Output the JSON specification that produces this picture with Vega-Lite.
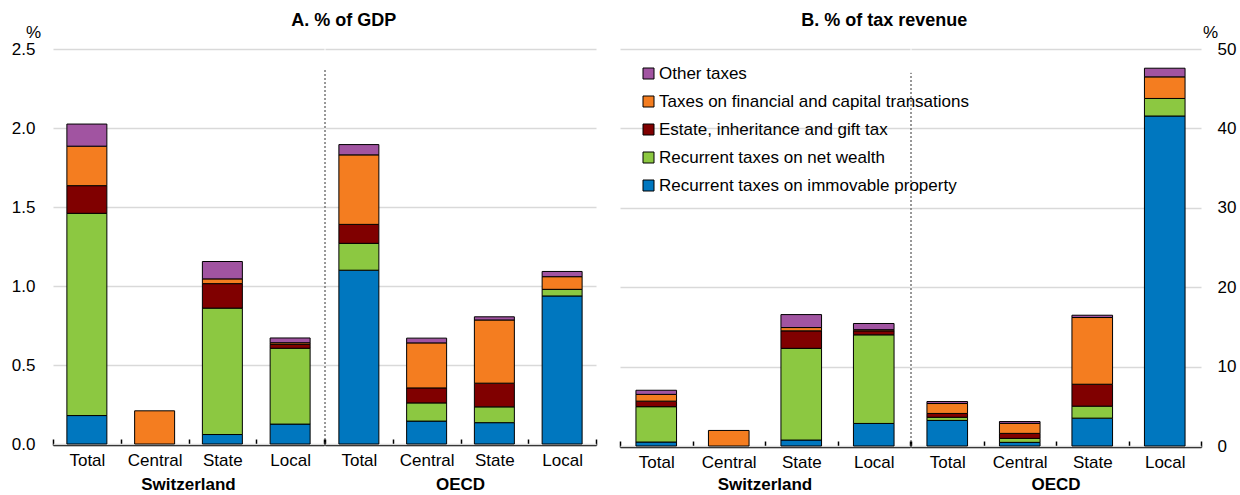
{
  "$schema": "https://vega.github.io/schema/vega-lite/v6.json",
  "background": "white",
  "padding": {"left": 11, "top": 12, "right": 5, "bottom": 0},
  "config": {
    "font": "Liberation Sans",
    "view": {"stroke": null},
    "axis": {"labelFont": "Liberation Sans", "labelFontSize": 17, "labelColor": "black", "titleFont": "Liberation Sans", "titleColor": "black"},
    "header": {"labelFont": "Liberation Sans", "labelFontWeight": "bold", "labelFontSize": 17, "labelColor": "black"},
    "title": {"font": "Liberation Sans", "fontWeight": "bold", "fontSize": 18, "color": "black"},
    "legend": {"labelFont": "Liberation Sans", "labelColor": "black"}
  },
  "datasets": {
    "gdp": [
      {"group": "Switzerland", "level": "Total", "tax": "Recurrent taxes on immovable property", "value": 0.18},
      {"group": "Switzerland", "level": "Total", "tax": "Recurrent taxes on net wealth", "value": 1.28},
      {"group": "Switzerland", "level": "Total", "tax": "Estate, inheritance and gift tax", "value": 0.175},
      {"group": "Switzerland", "level": "Total", "tax": "Taxes on financial and capital transations", "value": 0.25},
      {"group": "Switzerland", "level": "Total", "tax": "Other taxes", "value": 0.14},
      {"group": "Switzerland", "level": "Central", "tax": "Taxes on financial and capital transations", "value": 0.21},
      {"group": "Switzerland", "level": "State", "tax": "Recurrent taxes on immovable property", "value": 0.06},
      {"group": "Switzerland", "level": "State", "tax": "Recurrent taxes on net wealth", "value": 0.80},
      {"group": "Switzerland", "level": "State", "tax": "Estate, inheritance and gift tax", "value": 0.155},
      {"group": "Switzerland", "level": "State", "tax": "Taxes on financial and capital transations", "value": 0.03},
      {"group": "Switzerland", "level": "State", "tax": "Other taxes", "value": 0.11},
      {"group": "Switzerland", "level": "Local", "tax": "Recurrent taxes on immovable property", "value": 0.126},
      {"group": "Switzerland", "level": "Local", "tax": "Recurrent taxes on net wealth", "value": 0.48},
      {"group": "Switzerland", "level": "Local", "tax": "Estate, inheritance and gift tax", "value": 0.025},
      {"group": "Switzerland", "level": "Local", "tax": "Taxes on financial and capital transations", "value": 0.01},
      {"group": "Switzerland", "level": "Local", "tax": "Other taxes", "value": 0.03},
      {"group": "OECD", "level": "Total", "tax": "Recurrent taxes on immovable property", "value": 1.10},
      {"group": "OECD", "level": "Total", "tax": "Recurrent taxes on net wealth", "value": 0.17},
      {"group": "OECD", "level": "Total", "tax": "Estate, inheritance and gift tax", "value": 0.12},
      {"group": "OECD", "level": "Total", "tax": "Taxes on financial and capital transations", "value": 0.44},
      {"group": "OECD", "level": "Total", "tax": "Other taxes", "value": 0.065},
      {"group": "OECD", "level": "Central", "tax": "Recurrent taxes on immovable property", "value": 0.145},
      {"group": "OECD", "level": "Central", "tax": "Recurrent taxes on net wealth", "value": 0.115},
      {"group": "OECD", "level": "Central", "tax": "Estate, inheritance and gift tax", "value": 0.095},
      {"group": "OECD", "level": "Central", "tax": "Taxes on financial and capital transations", "value": 0.285},
      {"group": "OECD", "level": "Central", "tax": "Other taxes", "value": 0.03},
      {"group": "OECD", "level": "State", "tax": "Recurrent taxes on immovable property", "value": 0.135},
      {"group": "OECD", "level": "State", "tax": "Recurrent taxes on net wealth", "value": 0.10},
      {"group": "OECD", "level": "State", "tax": "Estate, inheritance and gift tax", "value": 0.15},
      {"group": "OECD", "level": "State", "tax": "Taxes on financial and capital transations", "value": 0.40},
      {"group": "OECD", "level": "State", "tax": "Other taxes", "value": 0.02},
      {"group": "OECD", "level": "Local", "tax": "Recurrent taxes on immovable property", "value": 0.937},
      {"group": "OECD", "level": "Local", "tax": "Recurrent taxes on net wealth", "value": 0.042},
      {"group": "OECD", "level": "Local", "tax": "Taxes on financial and capital transations", "value": 0.08},
      {"group": "OECD", "level": "Local", "tax": "Other taxes", "value": 0.033}
    ],
    "rev": [
      {"group": "Switzerland", "level": "Total", "tax": "Recurrent taxes on immovable property", "value": 0.5},
      {"group": "Switzerland", "level": "Total", "tax": "Recurrent taxes on net wealth", "value": 4.45},
      {"group": "Switzerland", "level": "Total", "tax": "Estate, inheritance and gift tax", "value": 0.7},
      {"group": "Switzerland", "level": "Total", "tax": "Taxes on financial and capital transations", "value": 0.85},
      {"group": "Switzerland", "level": "Total", "tax": "Other taxes", "value": 0.52},
      {"group": "Switzerland", "level": "Central", "tax": "Taxes on financial and capital transations", "value": 1.96},
      {"group": "Switzerland", "level": "State", "tax": "Recurrent taxes on immovable property", "value": 0.75},
      {"group": "Switzerland", "level": "State", "tax": "Recurrent taxes on net wealth", "value": 11.55},
      {"group": "Switzerland", "level": "State", "tax": "Estate, inheritance and gift tax", "value": 2.2},
      {"group": "Switzerland", "level": "State", "tax": "Taxes on financial and capital transations", "value": 0.42},
      {"group": "Switzerland", "level": "State", "tax": "Other taxes", "value": 1.63},
      {"group": "Switzerland", "level": "Local", "tax": "Recurrent taxes on immovable property", "value": 2.84},
      {"group": "Switzerland", "level": "Local", "tax": "Recurrent taxes on net wealth", "value": 11.16},
      {"group": "Switzerland", "level": "Local", "tax": "Estate, inheritance and gift tax", "value": 0.5},
      {"group": "Switzerland", "level": "Local", "tax": "Taxes on financial and capital transations", "value": 0.15},
      {"group": "Switzerland", "level": "Local", "tax": "Other taxes", "value": 0.78},
      {"group": "OECD", "level": "Total", "tax": "Recurrent taxes on immovable property", "value": 3.22},
      {"group": "OECD", "level": "Total", "tax": "Recurrent taxes on net wealth", "value": 0.4},
      {"group": "OECD", "level": "Total", "tax": "Estate, inheritance and gift tax", "value": 0.48},
      {"group": "OECD", "level": "Total", "tax": "Taxes on financial and capital transations", "value": 1.25},
      {"group": "OECD", "level": "Total", "tax": "Other taxes", "value": 0.25},
      {"group": "OECD", "level": "Central", "tax": "Recurrent taxes on immovable property", "value": 0.46},
      {"group": "OECD", "level": "Central", "tax": "Recurrent taxes on net wealth", "value": 0.5},
      {"group": "OECD", "level": "Central", "tax": "Estate, inheritance and gift tax", "value": 0.63},
      {"group": "OECD", "level": "Central", "tax": "Taxes on financial and capital transations", "value": 1.26},
      {"group": "OECD", "level": "Central", "tax": "Other taxes", "value": 0.23},
      {"group": "OECD", "level": "State", "tax": "Recurrent taxes on immovable property", "value": 3.51},
      {"group": "OECD", "level": "State", "tax": "Recurrent taxes on net wealth", "value": 1.51},
      {"group": "OECD", "level": "State", "tax": "Estate, inheritance and gift tax", "value": 2.76},
      {"group": "OECD", "level": "State", "tax": "Taxes on financial and capital transations", "value": 8.4},
      {"group": "OECD", "level": "State", "tax": "Other taxes", "value": 0.29},
      {"group": "OECD", "level": "Local", "tax": "Recurrent taxes on immovable property", "value": 41.56},
      {"group": "OECD", "level": "Local", "tax": "Recurrent taxes on net wealth", "value": 2.21},
      {"group": "OECD", "level": "Local", "tax": "Taxes on financial and capital transations", "value": 2.72},
      {"group": "OECD", "level": "Local", "tax": "Other taxes", "value": 1.09}
    ]
  },
  "spacing": 22,
  "resolve": {"scale": {"x": "independent", "y": "independent", "color": "shared"}},
  "hconcat": [
    {
      "data": {"name": "gdp"},
      "title": {"text": "A. % of GDP", "anchor": "start", "dx": 280, "offset": -7},
      "facet": {"column": {"field": "group", "type": "nominal", "sort": ["Switzerland", "OECD"], "header": {"title": null, "labelOrient": "bottom", "labelPadding": 9}}},
      "spacing": 0,
      "spec": {
        "width": 271,
        "height": 395,
        "layer": [
          {
            "transform": [{"calculate": "indexof(['Recurrent taxes on immovable property', 'Recurrent taxes on net wealth', 'Estate, inheritance and gift tax', 'Taxes on financial and capital transations', 'Other taxes'], datum.tax)", "as": "stackOrder"}],
            "mark": {"type": "bar", "width": {"band": 0.59}, "stroke": "black", "strokeWidth": 1},
            "encoding": {
              "x": {"field": "level", "type": "nominal", "sort": ["Total", "Central", "State", "Local"], "scale": {"paddingInner": 0, "paddingOuter": 0},
                "axis": {"title": null, "labelAngle": 0, "tickBand": "extent", "tickSize": -6, "tickWidth": 1.5, "tickColor": "black", "domainColor": "black", "domainWidth": 1.5, "labelPadding": 13}},
              "y": {"field": "value", "type": "quantitative", "stack": "zero", "scale": {"domain": [0, 2.5], "nice": false},
                "axis": {"title": "%", "titleAngle": 0, "titleX": -20, "titleY": -12, "titleAlign": "center", "titleBaseline": "alphabetic", "titleFontWeight": "normal", "titleFontSize": 17, "format": ".1f", "values": [0, 0.5, 1, 1.5, 2, 2.5], "ticks": false, "domain": false, "labelPadding": 18, "gridColor": "#d9d9d9", "gridWidth": 1.5}},
              "order": {"field": "stackOrder", "type": "quantitative"},
              "color": {"field": "tax", "type": "nominal",
                "scale": {"domain": ["Recurrent taxes on immovable property", "Recurrent taxes on net wealth", "Estate, inheritance and gift tax", "Taxes on financial and capital transations", "Other taxes"], "range": ["#0077bf", "#8cc841", "#800000", "#f47d20", "#a154a1"]},
                "legend": {"orient": "none", "legendX": 587, "legendY": 16, "title": null, "values": ["Other taxes", "Taxes on financial and capital transations", "Estate, inheritance and gift tax", "Recurrent taxes on net wealth", "Recurrent taxes on immovable property"], "symbolType": "square", "symbolSize": 121, "symbolStrokeColor": "black", "symbolStrokeWidth": 1, "labelFontSize": 17, "labelLimit": 0, "rowPadding": 10, "labelOffset": 2}}
            }
          },
          {
            "transform": [{"filter": "datum.group == 'OECD' && datum.level == 'Total' && datum.tax == 'Other taxes'"}],
            "mark": {"type": "rule", "strokeDash": [2, 2], "color": "#333", "strokeWidth": 1},
            "encoding": {
              "x": {"field": "level", "type": "nominal", "sort": ["Total", "Central", "State", "Local"], "bandPosition": 0},
              "y": {"datum": 0},
              "y2": {"datum": 2.37}
            }
          }
        ]
      }
    },
    {
      "data": {"name": "rev"},
      "title": {"text": "B. % of tax revenue", "anchor": "start", "dx": 182, "offset": -7},
      "facet": {"column": {"field": "group", "type": "nominal", "sort": ["Switzerland", "OECD"], "header": {"title": null, "labelOrient": "bottom", "labelPadding": 7}}},
      "spacing": 0,
      "spec": {
        "width": 290,
        "height": 397,
        "layer": [
          {
            "transform": [{"calculate": "indexof(['Recurrent taxes on immovable property', 'Recurrent taxes on net wealth', 'Estate, inheritance and gift tax', 'Taxes on financial and capital transations', 'Other taxes'], datum.tax)", "as": "stackOrder"}],
            "mark": {"type": "bar", "width": {"band": 0.56}, "stroke": "black", "strokeWidth": 1},
            "encoding": {
              "x": {"field": "level", "type": "nominal", "sort": ["Total", "Central", "State", "Local"], "scale": {"paddingInner": 0, "paddingOuter": 0},
                "axis": {"title": null, "labelAngle": 0, "tickBand": "extent", "tickSize": -6, "tickWidth": 1.5, "tickColor": "black", "domainColor": "black", "domainWidth": 1.5, "labelPadding": 13}},
              "y": {"field": "value", "type": "quantitative", "stack": "zero", "scale": {"domain": [0, 50], "nice": false},
                "axis": {"orient": "right", "title": "%", "titleAngle": 0, "titleX": 9, "titleY": -12, "titleAlign": "center", "titleBaseline": "alphabetic", "titleFontWeight": "normal", "titleFontSize": 17, "values": [0, 10, 20, 30, 40, 50], "ticks": false, "domain": false, "labelPadding": 16, "gridColor": "#d9d9d9", "gridWidth": 1.5}},
              "order": {"field": "stackOrder", "type": "quantitative"},
              "color": {"field": "tax", "type": "nominal",
                "scale": {"domain": ["Recurrent taxes on immovable property", "Recurrent taxes on net wealth", "Estate, inheritance and gift tax", "Taxes on financial and capital transations", "Other taxes"], "range": ["#0077bf", "#8cc841", "#800000", "#f47d20", "#a154a1"]},
                "legend": {"orient": "none", "legendX": 587, "legendY": 16, "title": null, "values": ["Other taxes", "Taxes on financial and capital transations", "Estate, inheritance and gift tax", "Recurrent taxes on net wealth", "Recurrent taxes on immovable property"], "symbolType": "square", "symbolSize": 121, "symbolStrokeColor": "black", "symbolStrokeWidth": 1, "labelFontSize": 17, "labelLimit": 0, "rowPadding": 10, "labelOffset": 2}}
            }
          },
          {
            "transform": [{"filter": "datum.group == 'OECD' && datum.level == 'Total' && datum.tax == 'Other taxes'"}],
            "mark": {"type": "rule", "strokeDash": [2, 2], "color": "#333", "strokeWidth": 1},
            "encoding": {
              "x": {"field": "level", "type": "nominal", "sort": ["Total", "Central", "State", "Local"], "bandPosition": 0},
              "y": {"datum": 0},
              "y2": {"datum": 47}
            }
          }
        ]
      }
    }
  ]
}
